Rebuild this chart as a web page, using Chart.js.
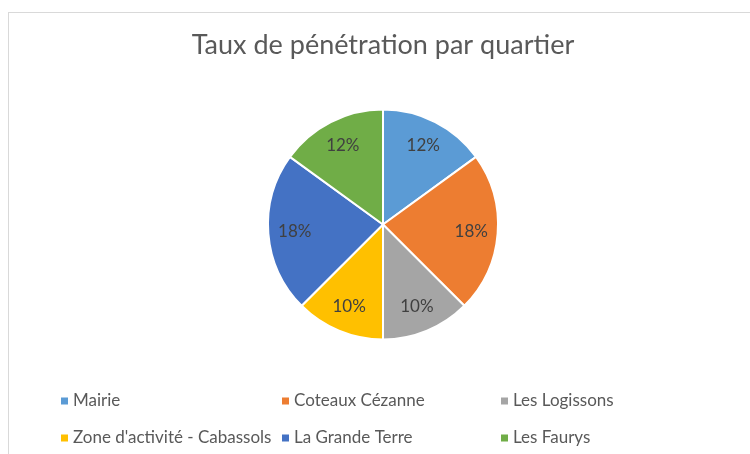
<!DOCTYPE html>
<html>
<head>
<meta charset="utf-8">
<script src="https://cdn.jsdelivr.net/npm/chart.js@4"></script>
<style>
  html, body { margin: 0; padding: 0; background: #fff; overflow: hidden; }
  #wrap { position: relative; width: 750px; height: 454px; }
  #frame { position: absolute; left: 8px; top: 12px; width: 800px; height: 500px; border: 1px solid #d9d9d9; }
  #chart { position: absolute; left: 0; top: 0; }
</style>
</head>
<body>
<div id="wrap">
  <div id="frame"></div>
  <canvas id="chart" width="750" height="454"></canvas>
</div>
<script>
var quartiers = ['Mairie', 'Coteaux Cézanne', 'Les Logissons', "Zone d'activité - Cabassols", 'La Grande Terre', 'Les Faurys'];
var taux = [12, 18, 10, 10, 18, 12];
var couleurs = ['#5B9BD5', '#ED7D31', '#A5A5A5', '#FFC000', '#4472C4', '#70AD47'];

var police = 'Lato, "Open Sans", sans-serif';

// etiquettes dans les parts
var etiquettes = {
  id: 'etiquettes',
  afterDatasetsDraw: function (chart) {
    var ctx = chart.ctx;
    var meta = chart.getDatasetMeta(0);
    ctx.save();
    ctx.font = '17px ' + police;
    ctx.fillStyle = '#404040';
    ctx.textAlign = 'center';
    ctx.textBaseline = 'middle';
    meta.data.forEach(function (arc, i) {
      var p = arc.getProps(['x', 'y', 'startAngle', 'endAngle', 'outerRadius'], true);
      var a = (p.startAngle + p.endAngle) / 2;
      var r = p.outerRadius * 0.77;
      ctx.fillText(taux[i] + '%', p.x + Math.cos(a) * r, p.y + Math.sin(a) * r);
    });
    ctx.restore();
  }
};

// legende en colonnes comme dans Excel
var legende = {
  id: 'legende',
  afterDraw: function (chart) {
    var ctx = chart.ctx;
    var items = Chart.overrides.pie.plugins.legend.labels.generateLabels(chart);
    var colX = [61, 282, 501];
    var rowY = [401, 438];
    ctx.save();
    ctx.font = '17px ' + police;
    ctx.textBaseline = 'middle';
    items.forEach(function (it, i) {
      var x = colX[i % 3], y = rowY[Math.floor(i / 3)];
      ctx.fillStyle = it.fillStyle;
      ctx.fillRect(x, y - 3.5, 7, 7);
      ctx.fillStyle = '#595959';
      ctx.fillText(it.text, x + 12, y);
    });
    ctx.restore();
  }
};

new Chart(document.getElementById('chart'), {
  type: 'pie',
  data: {
    labels: quartiers,
    datasets: [{
      data: taux,
      backgroundColor: couleurs,
      borderColor: '#ffffff',
      borderWidth: 2
    }]
  },
  options: {
    responsive: false,
    animation: false,
    radius: 115,
    layout: { padding: { left: 16, right: 0, top: 0, bottom: 110 } },
    plugins: {
      legend: { display: false },
      tooltip: { enabled: false },
      title: {
        display: true,
        text: 'Taux de pénétration par quartier',
        color: '#595959',
        font: { family: police, size: 27, weight: 'normal' },
        padding: { top: 29, bottom: 43.6 }
      }
    }
  },
  plugins: [etiquettes, legende]
});
</script>
</body>
</html>
